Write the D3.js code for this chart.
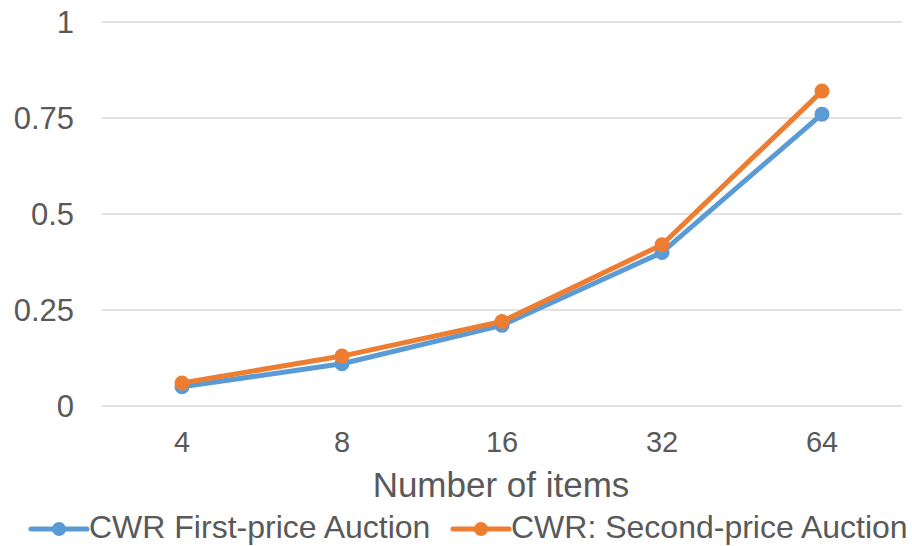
<!DOCTYPE html>
<html>
<head>
<meta charset="utf-8">
<script src="https://cdn.jsdelivr.net/npm/d3@7"></script>
<style>
  html, body { margin: 0; padding: 0; background: #fff; }
  svg { display: block; font-family: "Liberation Sans", Arial, sans-serif; }
</style>
</head>
<body>
<svg id="chart" width="912" height="546"></svg>
<script>
const categories = ["4", "8", "16", "32", "64"];
const firstPrice = [0.05, 0.11, 0.21, 0.40, 0.76];
const secondPrice = [0.06, 0.13, 0.22, 0.42, 0.82];
const yTicks = [0, 0.25, 0.5, 0.75, 1];
const yTickLabels = ["0", "0.25", "0.5", "0.75", "1"];
const seriesNames = ["CWR First-price Auction", "CWR: Second-price Auction"];
const seriesColors = ["#5B9BD5", "#ED7D31"];
const xTitle = "Number of items";

const svg = d3.select("#chart");
const textColor = "#595959";

const x = d3.scaleBand().domain(categories).range([102, 902]);
const y = d3.scaleLinear().domain([0, 1]).range([406, 22]);

// gridlines
svg.append("g").selectAll("line").data(yTicks).join("line")
  .attr("x1", 102).attr("x2", 902)
  .attr("y1", d => y(d)).attr("y2", d => y(d))
  .attr("stroke", "#D9D9D9").attr("stroke-width", 1.5);

// y axis labels
const yAxis = d3.axisLeft(y).tickValues(yTicks)
  .tickFormat((d, i) => yTickLabels[i]).tickSize(0).tickPadding(0);
const gy = svg.append("g").attr("transform", "translate(74,0)").call(yAxis);
gy.select(".domain").remove();
gy.selectAll("text").attr("fill", textColor)
  .attr("font-size", 31).attr("font-family", "Liberation Sans, Arial, sans-serif")
  .attr("dy", "0.34em");

// x axis labels
const xAxis = d3.axisBottom(x).tickSize(0).tickPadding(0);
const gx = svg.append("g").attr("transform", "translate(0,431)").call(xAxis);
gx.select(".domain").remove();
gx.selectAll("text").attr("fill", textColor)
  .attr("font-size", 29).attr("font-family", "Liberation Sans, Arial, sans-serif")
  .attr("dy", "0.74em");

// x title
svg.append("text").attr("x", 501).attr("y", 497)
  .attr("text-anchor", "middle").attr("fill", textColor)
  .attr("font-size", 35).text(xTitle);

// series
const series = [firstPrice, secondPrice];
const line = d3.line()
  .x((d, i) => x(categories[i]) + x.bandwidth() / 2)
  .y(d => y(d));

series.forEach((vals, s) => {
  const g = svg.append("g");
  g.append("path").datum(vals)
    .attr("d", line).attr("fill", "none")
    .attr("stroke", seriesColors[s]).attr("stroke-width", 5)
    .attr("stroke-linejoin", "round").attr("stroke-linecap", "round");
  g.selectAll("circle").data(vals).join("circle")
    .attr("cx", (d, i) => x(categories[i]) + x.bandwidth() / 2)
    .attr("cy", d => y(d)).attr("r", 7.5)
    .attr("fill", seriesColors[s]);
});

// legend
const legendX = [31, 453];
const legendY = 529;
seriesNames.forEach((name, s) => {
  const g = svg.append("g");
  g.append("line").attr("x1", legendX[s]).attr("x2", legendX[s] + 56)
    .attr("y1", legendY).attr("y2", legendY)
    .attr("stroke", seriesColors[s]).attr("stroke-width", 5)
    .attr("stroke-linecap", "round");
  g.append("circle").attr("cx", legendX[s] + 28).attr("cy", legendY)
    .attr("r", 7).attr("fill", seriesColors[s]);
  g.append("text").attr("x", legendX[s] + 58).attr("y", 538)
    .attr("fill", textColor).attr("font-size", 32).text(name);
});
</script>
</body>
</html>
